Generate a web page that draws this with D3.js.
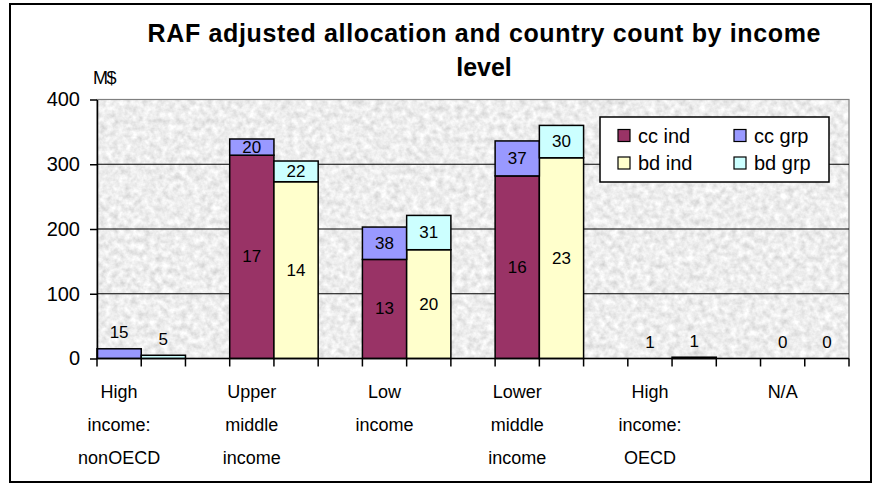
<!DOCTYPE html>
<html lang="en">
<head>
  <meta charset="UTF-8">
  <title>RAF adjusted allocation and country count by income level</title>
  <script src="https://d3js.org/d3.v7.min.js"></script>
  <style>
    html, body { margin: 0; padding: 0; background: #fff; }
    svg { display: block; font-family: Arial, "Liberation Sans", sans-serif; }
  </style>
</head>
<body>

  <script>
    // ---------------------------------------------------------------------
    //  Data (M$ per income level, plus country counts shown as labels)
    // ---------------------------------------------------------------------
    const categories = ["High income: nonOECD", "Upper middle income", "Low income",
                        "Lower middle income", "High income: OECD", "N/A"];
    const categoryLines = [["High", "income:", "nonOECD"], ["Upper", "middle", "income"],
                           ["Low", "income"], ["Lower", "middle", "income"],
                           ["High", "income:", "OECD"], ["N/A"]];

    const ccInd = [0, 314, 153, 282, 0, 0];
    const ccGrp = [15, 25, 50, 54, 0, 0];
    const bdInd = [0, 273, 168, 310, 2, 0];
    const bdGrp = [5, 32, 53, 50, 0, 0];

    // country counts (null = no label)
    const ccIndN = [null, 17, 13, 16, null, null];
    const ccGrpN = [15, 20, 38, 37, 1, 0];
    const bdIndN = [null, 14, 20, 23, 1, null];
    const bdGrpN = [5, 22, 31, 30, null, 0];

    const yTicks = [0, 100, 200, 300, 400];
    const seriesNames = ["cc ind", "cc grp", "bd ind", "bd grp"];

    // ---------------------------------------------------------------------
    //  Layout / style
    // ---------------------------------------------------------------------
    const W = 875, H = 485;
    const plot = { left: 97, right: 849, top: 99.5, bottom: 358.5 };
    const colors = { "cc ind": "#993366", "cc grp": "#9999ff",
                     "bd ind": "#ffffcc", "bd grp": "#ccffff" };

    const svg = d3.select("body").append("svg")
      .attr("width", W).attr("height", H);

    // granite-like plot background
    const defs = svg.append("defs");
    const filter = defs.append("filter").attr("id", "granite")
      .attr("x", 0).attr("y", 0).attr("width", 1).attr("height", 1);
    filter.append("feTurbulence")
      .attr("type", "fractalNoise").attr("baseFrequency", 0.16)
      .attr("numOctaves", 3).attr("seed", 7).attr("result", "noise");
    filter.append("feColorMatrix").attr("in", "noise").attr("type", "matrix")
      .attr("values", "0.5 0 0 0 0.6  0.5 0 0 0 0.6  0.5 0 0 0 0.6  0 0 0 0 1");

    // chart frame
    svg.append("rect")
      .attr("x", 10).attr("y", 4).attr("width", 861).attr("height", 478)
      .attr("fill", "#fff").attr("stroke", "#000").attr("stroke-width", 2);

    // scales: 2 bars per category + a blank slot between categories
    const slots = categories.flatMap((c, i) =>
      i < categories.length - 1 ? [i + "cc", i + "bd", i + "gap"] : [i + "cc", i + "bd"]);

    const x = d3.scaleBand().domain(slots).range([plot.left, plot.right]).padding(0);
    const y = d3.scaleLinear().domain([0, 400]).range([plot.bottom, plot.top]);

    // plot area
    svg.append("rect")
      .attr("x", plot.left).attr("y", plot.top)
      .attr("width", plot.right - plot.left).attr("height", plot.bottom - plot.top)
      .attr("filter", "url(#granite)");
    svg.append("rect")
      .attr("x", plot.left).attr("y", plot.top)
      .attr("width", plot.right - plot.left).attr("height", plot.bottom - plot.top)
      .attr("fill", "none").attr("stroke", "#808080").attr("stroke-width", 1.2);

    // gridlines
    svg.append("g").selectAll("line")
      .data(yTicks.filter(t => t > 0 && t < 400))
      .join("line")
        .attr("x1", plot.left).attr("x2", plot.right)
        .attr("y1", d => y(d)).attr("y2", d => y(d))
        .attr("stroke", "#000").attr("stroke-width", 1.2);

    // bars
    const rows = categories.flatMap((c, i) => [
      { i, group: "cc", ind: ccInd[i], grp: ccGrp[i], indN: ccIndN[i], grpN: ccGrpN[i] },
      { i, group: "bd", ind: bdInd[i], grp: bdGrp[i], indN: bdIndN[i], grpN: bdGrpN[i] }
    ]);
    const stacked = d3.stack().keys(["ind", "grp"])(rows);

    const layers = svg.append("g").selectAll("g")
      .data(stacked)
      .join("g");

    layers.selectAll("rect")
      .data(s => s.filter(d => d[1] - d[0] > 0).map(d => Object.assign(d, { key: s.key })))
      .join("rect")
        .attr("x", d => x(d.data.i + d.data.group))
        .attr("width", x.bandwidth())
        .attr("y", d => y(d[1]))
        .attr("height", d => y(d[0]) - y(d[1]))
        .attr("fill", d => colors[d.data.group + " " + d.key])
        .attr("stroke", "#000").attr("stroke-width", 1.5);

    // count labels
    const labels = stacked.flatMap(s => s.map(d => ({ d, key: s.key })))
      .filter(o => o.d.data[o.key + "N"] != null);

    svg.append("g").selectAll("text")
      .data(labels)
      .join("text")
        .attr("x", o => x(o.d.data.i + o.d.data.group) + x.bandwidth() / 2)
        .attr("y", o => {
          const h = y(o.d[0]) - y(o.d[1]);
          if (h >= 14) return (y(o.d[0]) + y(o.d[1])) / 2;
          return y(o.d.data.ind + o.d.data.grp) - 16;
        })
        .attr("text-anchor", "middle").attr("dominant-baseline", "central")
        .attr("font-size", 17).attr("fill", "#000")
        .text(o => o.d.data[o.key + "N"]);

    // y axis
    const yAxis = svg.append("g")
      .attr("transform", `translate(${plot.left},0)`)
      .call(d3.axisLeft(y).tickValues(yTicks).tickSize(7).tickSizeOuter(0).tickPadding(10));
    yAxis.selectAll("text").attr("font-size", 20).attr("fill", "#000")
      .attr("font-family", "Arial, 'Liberation Sans', sans-serif");
    yAxis.selectAll("line, path").attr("stroke", "#000").attr("stroke-width", 1.5);

    svg.append("text")
      .attr("x", 93).attr("y", 78).attr("dominant-baseline", "central")
      .attr("font-size", 18).attr("letter-spacing", -1.5)
      .text("M$");

    // x axis
    const boundaries = slots.map(s => x(s)).concat(plot.right);
    const xAxis = svg.append("g");
    xAxis.append("line")
      .attr("x1", plot.left).attr("x2", plot.right)
      .attr("y1", y(0)).attr("y2", y(0))
      .attr("stroke", "#000").attr("stroke-width", 1.5);
    xAxis.selectAll("line.tick")
      .data(boundaries)
      .join("line").attr("class", "tick")
        .attr("x1", d => d).attr("x2", d => d)
        .attr("y1", y(0)).attr("y2", y(0) + 8)
        .attr("stroke", "#000").attr("stroke-width", 1.5);

    svg.append("g").selectAll("text")
      .data(categoryLines)
      .join("text")
        .attr("text-anchor", "middle").attr("font-size", 18)
        .each(function (lines, i) {
          const cx = x(i + "cc") + x.bandwidth() / 2;
          d3.select(this).selectAll("tspan")
            .data(lines)
            .join("tspan")
              .attr("x", cx)
              .attr("y", (l, j) => 398 + j * 33)
              .text(l => l);
        });

    // legend
    const legend = svg.append("g");
    legend.append("rect")
      .attr("x", 600).attr("y", 117).attr("width", 229).attr("height", 65)
      .attr("fill", "#fff").attr("stroke", "#000").attr("stroke-width", 1.5);
    const items = legend.selectAll("g.item")
      .data(seriesNames)
      .join("g").attr("class", "item")
        .attr("transform", (d, i) => `translate(${i % 2 ? 734 : 618},${i < 2 ? 135.5 : 163})`);
    items.append("rect")
      .attr("x", 0).attr("y", -6).attr("width", 12).attr("height", 12)
      .attr("fill", d => colors[d]).attr("stroke", "#000").attr("stroke-width", 1.2);
    items.append("text")
      .attr("x", 20).attr("y", 0).attr("dominant-baseline", "central")
      .attr("font-size", 20)
      .text(d => d);

    // title
    svg.append("text")
      .attr("x", 484).attr("y", 42)
      .attr("text-anchor", "middle").attr("font-size", 25).attr("font-weight", "bold")
      .attr("textLength", 673).attr("lengthAdjust", "spacing")
      .text("RAF adjusted allocation and country count by income");
    svg.append("text")
      .attr("x", 484).attr("y", 76)
      .attr("text-anchor", "middle").attr("font-size", 25).attr("font-weight", "bold")
      .text("level");
  </script>

</body>
</html>
